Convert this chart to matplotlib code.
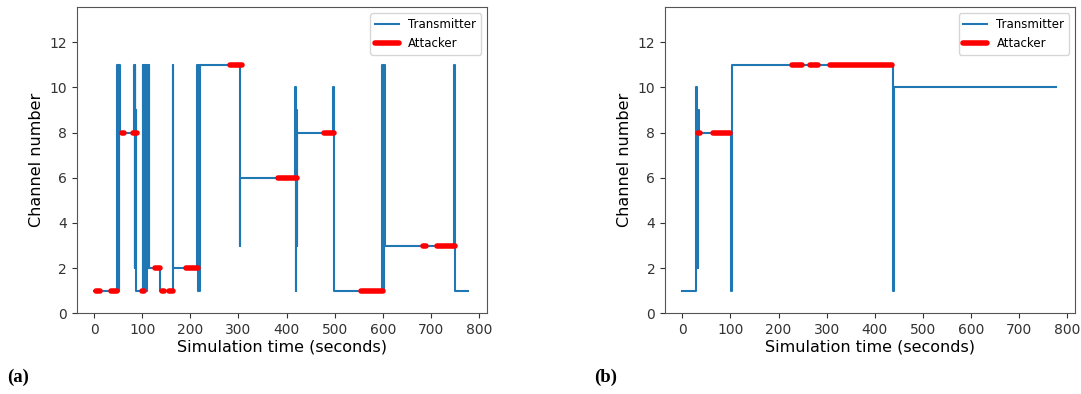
import numpy as np
import matplotlib
matplotlib.use('Agg')
import matplotlib.pyplot as plt

# transmitter channel over time (step changes), panel (a)
tx_time_a = [0, 48, 49, 50, 51, 52, 53, 83, 84, 85, 86, 87, 88,
             101, 102, 104, 105, 107, 108, 110, 112, 114, 115, 136, 163, 164,
             213, 215, 217, 219, 221, 303, 304, 418, 419, 420, 421, 422,
             497, 498, 598, 600, 602, 604, 748, 749, 778]
tx_chan_a = [1, 11, 2, 11, 1, 11, 8, 11, 2, 11, 2, 9, 1,
             11, 1, 11, 2, 11, 1, 11, 2, 11, 2, 1, 11, 2,
             11, 1, 11, 1, 11, 3, 6, 10, 1, 9, 3, 8,
             10, 1, 11, 1, 11, 3, 11, 1, 1]

# attacker jamming intervals, panel (a)
atk_start_a = [3, 35, 59, 80, 99, 126, 141, 156, 191, 282, 383, 477, 555, 684, 712]
atk_end_a = [13, 48, 62, 90, 103, 137, 145, 165, 215, 308, 421, 498, 600, 690, 749]
atk_chan_a = [1, 1, 8, 8, 1, 2, 1, 1, 2, 11, 6, 8, 1, 3, 3]

# panel (b)
tx_time_b = [0, 28, 30, 31, 32, 33, 34, 101, 103, 437, 439, 776]
tx_chan_b = [1, 10, 2, 9, 2, 9, 8, 1, 11, 1, 10, 10]

atk_start_b = [33, 46, 64, 228, 265, 306]
atk_end_b = [36, 46, 98, 248, 281, 436]
atk_chan_b = [8, 8, 8, 11, 11, 11]


def segments(starts, ends, chans):
    xs, ys = [], []
    for s, e, c in zip(starts, ends, chans):
        xs += [s, e, np.nan]
        ys += [c, c, np.nan]
    return xs, ys


fig = plt.figure(figsize=(10.81, 3.94), dpi=100)
ax_a = fig.add_axes([0.0710, 0.2048, 0.3793, 0.7766])
ax_b = fig.add_axes([0.6152, 0.2048, 0.3793, 0.7766])

panels = [(ax_a, tx_time_a, tx_chan_a, atk_start_a, atk_end_a, atk_chan_a, '(a)', 0.007),
          (ax_b, tx_time_b, tx_chan_b, atk_start_b, atk_end_b, atk_chan_b, '(b)', 0.550)]

for ax, tt, tc, a_s, a_e, a_c, lab, lx in panels:
    ax.plot(tt, tc, drawstyle='steps-post', color='#1f77b4', lw=1.5, label='Transmitter')
    xs, ys = segments(a_s, a_e, a_c)
    ax.plot(xs, ys, color='red', lw=4, solid_capstyle='round', label='Attacker')
    ax.set_xlim(-36, 816)
    ax.set_ylim(0, 13.55)
    ax.set_xticks(np.arange(0, 801, 100))
    ax.set_yticks(np.arange(0, 13, 2))
    ax.tick_params(labelsize=10, colors='#333333')
    for sp in ax.spines.values():
        sp.set_color('#555555')
    ax.set_xlabel('Simulation time (seconds)', fontsize=11.5, labelpad=2)
    ax.set_ylabel('Channel number', fontsize=11.5)
    ax.legend(loc='upper right', fontsize=8.5)
    fig.text(lx, 0.03, lab, fontsize=13.5, fontweight='bold', family='Liberation Serif')

fig.savefig('out.png', dpi=100)
